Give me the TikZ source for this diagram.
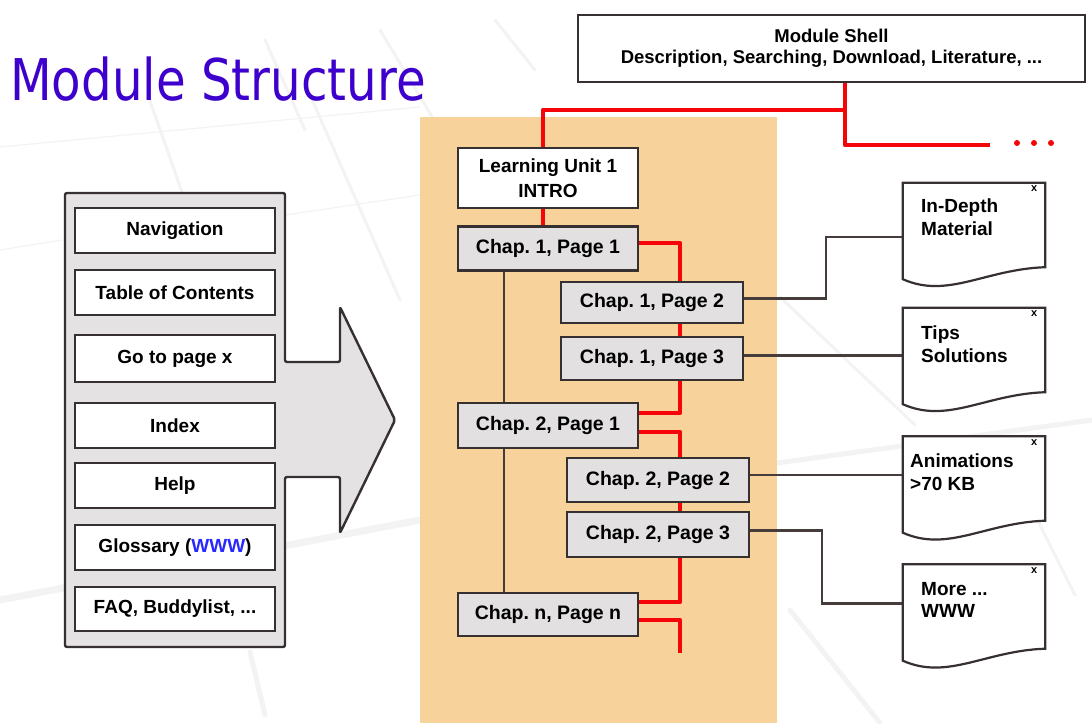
\documentclass[tikz,border=0pt]{standalone}
\usepackage{fontspec}
\usepackage{graphicx}
\setmainfont{Liberation Sans}
\newfontfamily\titlefont{DejaVu Sans}
\usetikzlibrary{calc}
\definecolor{bord}{RGB}{55,48,48}
\definecolor{panelfill}{RGB}{228,226,226}
\definecolor{chapfill}{RGB}{226,224,224}
\definecolor{unitbg}{RGB}{248,210,155}
\definecolor{redline}{RGB}{245,5,10}
\definecolor{connc}{RGB}{70,60,60}
\definecolor{titleblue}{RGB}{62,0,204}
\definecolor{wwwblue}{RGB}{40,40,255}
\definecolor{faint}{RGB}{243,243,243}
\pgfdeclarelayer{bg}
\pgfsetlayers{bg,main}
\frenchspacing
\begin{document}
\begin{tikzpicture}[x=1pt,y=-1pt,
  box/.style={draw=bord, line width=2.4pt, fill=white, inner sep=0pt, align=center,
    font=\bfseries\fontsize{19}{22}\selectfont},
  navbox/.style={box, minimum width=200pt, minimum height=45pt},
  chap/.style={box, fill=chapfill, minimum width=180pt, minimum height=44pt,
    font=\bfseries\fontsize{19.5}{22}\selectfont},
  doc/.style={minimum width=142pt, minimum height=96pt, inner sep=0pt},
  doctext/.style={inner sep=0pt, align=left, anchor=north west,
    font=\bfseries\fontsize{19}{22.5}\selectfont},
  xmark/.style={inner sep=0pt, font=\bfseries\fontsize{11}{11}\selectfont},
  redl/.style={draw=redline, line width=4.2pt, line join=round, line cap=butt},
  conn/.style={draw=connc, line width=2.1pt, line join=miter},
  docline/.style={draw=bord, line width=2.2pt, fill=white, line join=miter},
  faintl/.style={draw=faint, line width=3pt, line cap=round},
  reddot/.style={circle, fill=redline, inner sep=0pt, minimum size=6pt}
]
\useasboundingbox (0,0) rectangle (1092,723);

% ---------- background ----------
\begin{pgfonlayer}{bg}
\fill[white] (0,0) rectangle (1092,723);
\draw[faintl] (148,95) -- (182,192);
\draw[faintl] (265,40) -- (305,130);
\draw[faintl] (310,95) -- (400,300);
\draw[faintl] (380,30) -- (440,130);
\draw[faintl] (495,20) -- (535,70);
\draw[faintl, line width=1.2pt] (0,147) -- (420,107);
\draw[faintl, line width=1.2pt] (285,215) -- (420,195);
\draw[faintl, line width=1.2pt] (0,250) -- (62,240);
\draw[faintl, line width=7pt] (0,600) -- (420,520);
\draw[faintl] (780,297) -- (915,425);
\draw[faintl, line width=5pt] (777,463) -- (1092,420);
\draw[faintl] (1005,455) -- (1075,595);
\draw[faintl, line width=5pt] (790,610) -- (880,723);
\draw[faintl, line width=5pt] (250,652) -- (265,715);

% orange learning-unit area
\fill[unitbg] (420,117) rectangle (777,723);

% left panel with arrow
\draw[draw=bord, line width=2.4pt, fill=panelfill, line join=round, rounded corners=2pt]
  (65,193) -- (285,193) -- (285,362) -- (340,362) -- (340,307) -- (395,420)
  -- (340,533) -- (340,477) -- (285,477) -- (285,647) -- (65,647) -- cycle;
\end{pgfonlayer}

% ---------- title ----------
\node[inner sep=0pt, anchor=base west, text=titleblue,
  font=\titlefont\fontsize{57.5}{60}\selectfont] (title) at (10,100)
  {\scalebox{0.84}[1]{Module Structure}};

% ---------- left panel boxes ----------
\node[navbox] (nav)   at (175,230.5) {Navigation};
\node[navbox] (toc)   at (175,292.5) {Table of Contents};
\node[navbox, minimum height=47pt] (goto)  at (175,358.5) {Go to page x};
\node[navbox] (index) at (175,425.5) {Index};
\node[navbox] (help)  at (175,485.5) {Help};
\node[navbox] (gloss) at (175,547.5) {Glossary (\textcolor{wwwblue}{WWW})};
\node[navbox, minimum height=44pt] (faq) at (175,609) {FAQ, Buddylist, ...};

% ---------- module shell ----------
\node[box, minimum width=507pt, minimum height=67pt, font=\bfseries\fontsize{18.5}{21}\selectfont]
  (shell) at (831.5,48.5) {Module Shell\\Description, Searching, Download, Literature, ...};

% ---------- learning unit and chapters ----------
\node[box, minimum width=180pt, minimum height=60pt, font=\bfseries\fontsize{19}{25}\selectfont]
  (lu) at (548,178) {Learning Unit 1\\INTRO};
\node[chap] (c11) at (548,248.5) {Chap. 1, Page 1};
\node[chap, minimum width=182pt, minimum height=41pt] (c12) at (652,302.5) {Chap. 1, Page 2};
\node[chap, minimum width=182pt, minimum height=43pt] (c13) at (652,358.5) {Chap. 1, Page 3};
\node[chap, minimum height=45pt] (c21) at (548,425.5) {Chap. 2, Page 1};
\node[chap, minimum width=182pt] (c22) at (658,480) {Chap. 2, Page 2};
\node[chap, minimum width=182pt, minimum height=45pt] (c23) at (658,534.5) {Chap. 2, Page 3};
\node[chap, minimum height=43pt] (cnn) at (548,614.5) {Chap. n, Page n};

% ---------- documents ----------
\node[doc] (d1) at (974,231) {};
\node[doc] (d2) at (974,356) {};
\node[doc] (d3) at (974,484.5) {};
\node[doc] (d4) at (974,612.5) {};
\foreach \d in {d1,d2,d3,d4}{
  \draw[docline] (\d.north west) -- (\d.south west)
    .. controls +(45,20) and +(-60,2) .. ($(\d.south east)+(0,-12)$)
    -- (\d.north east) -- cycle;
  \node[xmark] (\d x) at ($(\d.north east)+(-11,6)$) {x};
}
\node[doctext] (t1) at (921,199) {In-Depth\\Material};
\node[doctext] (t2) at (921,326) {Tips\\Solutions};
\node[doctext] (t3) at (910,454) {Animations\\>70 KB};
\node[doctext] (t4) at (921,582) {More ...\\WWW};

% ---------- connectors ----------
\coordinate (rj) at (845,110);
\coordinate (rk) at (845,145);
\coordinate (more) at (990,145);
\coordinate (sp) at (543,110);
\coordinate (rx) at (680,0);
\coordinate (rend) at (680,653);
\coordinate (gx) at (504,0);
\node[reddot] (dot1) at (1017,143) {};
\node[reddot] (dot2) at (1034,143) {};
\node[reddot] (dot3) at (1051,143) {};

\begin{pgfonlayer}{bg}
\draw[redl] (shell.south -| rj) -- (rj) -- (sp) -- (lu.north -| sp);
\draw[redl] (rj) -- (rk) -- (more);
\draw[redl] (lu.south -| sp) -- (c11.north -| sp);
\draw[redl] ([yshift=5.5pt]c11.east) -| (c12.north -| rx);
\draw[redl] (c12.south -| rx) -- (c13.north -| rx);
\draw[redl] (c13.south -| rx) |- ([yshift=12.5pt]c21.east);
\draw[redl] ([yshift=-6.5pt]c21.east) -| (c22.north -| rx);
\draw[redl] (c22.south -| rx) -- (c23.north -| rx);
\draw[redl] (c23.south -| rx) |- ([yshift=12.5pt]cnn.east);
\draw[redl] ([yshift=-5.5pt]cnn.east) -| (rend);

\draw[conn] (c11.south -| gx) -- (c21.north -| gx);
\draw[conn] (c21.south -| gx) -- (cnn.north -| gx);

\coordinate (k1) at ([yshift=4pt]c12.east);
\coordinate (k2) at ([yshift=3pt]c13.east);
\coordinate (k3) at ([yshift=5pt]c22.east);
\coordinate (k4) at ([yshift=4pt]c23.east);
\draw[conn] (k1) -- ++(82,0) |- ([yshift=-6pt]d1.west);
\draw[conn] (k2) -- (k2 -| d2.west);
\draw[conn] (k3) -- (k3 -| d3.west);
\draw[conn] (k4) -- ++(72,0) |- ([yshift=9pt]d4.west);
\end{pgfonlayer}
\end{tikzpicture}
\end{document}
